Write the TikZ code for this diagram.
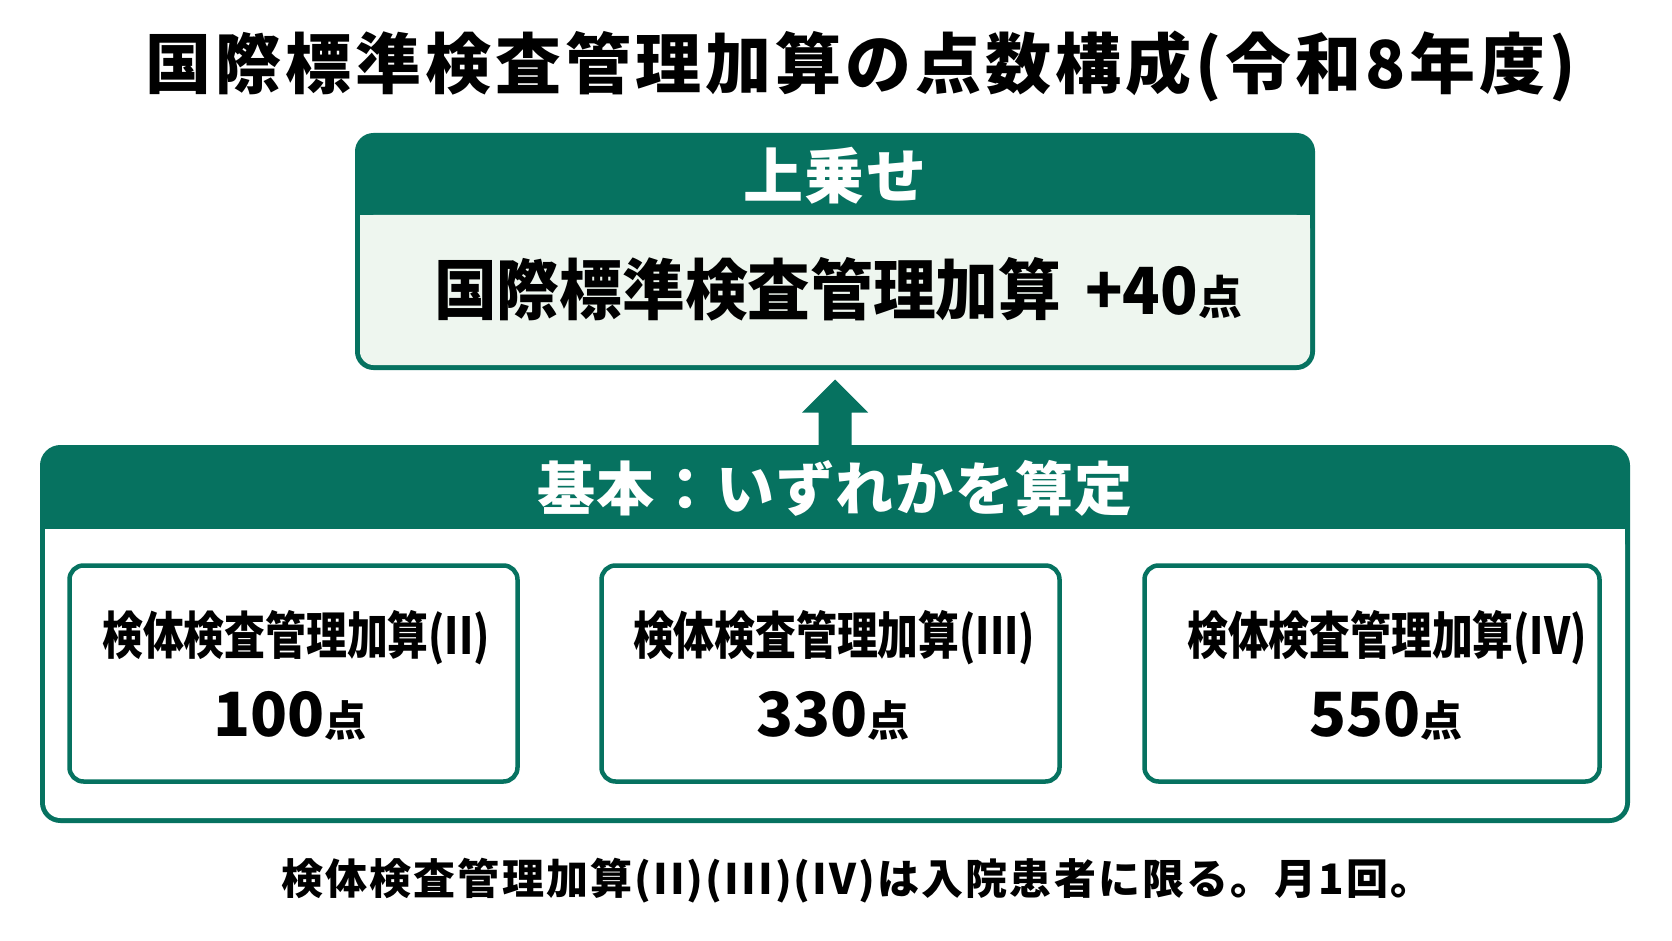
\documentclass[tikz,border=0pt]{standalone}
\usepackage{fontspec}
\setmainfont{Noto Sans CJK JP}
\newfontfamily\jpcond{Noto Sans CJK JP}[FakeStretch=0.8]
\newfontfamily\jpnarrow{Noto Sans CJK JP}[FakeStretch=0.95]
\newfontfamily\jpspaced{Noto Sans CJK JP}[LetterSpace=5]
\newfontfamily\jphead{Noto Sans CJK JP}[LetterSpace=3]
\newfontfamily\jptitle{Noto Sans CJK JP}[LetterSpace=6]
\usetikzlibrary{calc}
\definecolor{tealg}{RGB}{6,114,96}
\definecolor{lightg}{RGB}{238,246,239}
\newcommand\setfsz[1]{\fontsize{#1}{#1}\selectfont}
\begin{document}
\begin{tikzpicture}[x=1pt,y=-1pt,
  txt/.style={inner sep=0pt, outer sep=0pt, anchor=center},
  innerbox/.style={draw=tealg, line width=4.5pt, rounded corners=14pt, fill=white,
    minimum height=216pt, inner sep=0pt},
  bigbox/.style={draw=tealg, fill=tealg, line width=5pt, inner sep=0pt}
]
\useasboundingbox (0,0) rectangle (1672,941);
\fill[white] (0,0) rectangle (1672,941);

% title
\node[txt, font=\jptitle\bfseries\setfsz{66}] (title) at (861,66) {国際標準検査管理加算の点数構成(令和8年度)};

% top box
\node[bigbox, rounded corners=16pt, minimum width=955pt, minimum height=232pt] (top) at (835,251.5) {};
\fill[lightg, rounded corners=13.5pt] (360,215) rectangle (1310,365);
\fill[lightg] (360,215) rectangle (1310,240);
\node[txt, text=white, font=\jphead\bfseries\setfsz{60}] (toph) at (835,176) {上乗せ};
\node[txt, font=\jpnarrow\bfseries\setfsz{66}] (topt) at (838,289)
  {国際標準検査管理加算\hspace{24pt}{\setfsz{65}+40}{\setfsz{46}点}};

% base box
\node[bigbox, rounded corners=18pt, minimum width=1585pt, minimum height=373pt] (base) at (835,634) {};
\fill[white, rounded corners=15.5pt] (45,529) rectangle (1625,818);
\fill[white] (45,529) rectangle (1625,560);
\node[txt, text=white, font=\jphead\bfseries\setfsz{58}] (baseh) at (835,488) {基本：いずれかを算定};

% arrow from base to top
\fill[tealg] ($(base.north)+(-16.5,0)$) -- ($(top.south)+(-16.5,42.5)$) -- ($(top.south)+(-33,42.5)$)
  -- ($(top.south)+(0,9.5)$) -- ($(top.south)+(33,42.5)$) -- ($(top.south)+(16.5,42.5)$)
  -- ($(base.north)+(16.5,0)$) -- cycle;

% inner boxes
\node[innerbox, minimum width=448pt] (b1) at (293.5,673.5) {};
\node[innerbox, minimum width=458pt] (b2) at (830.5,673.5) {};
\node[innerbox, minimum width=455pt] (b3) at (1372,673.5) {};

\node[txt, font=\jpcond\bfseries\setfsz{51}] (b1a) at (296,638) {検体検査管理加算(II)};
\node[txt, font=\jpcond\bfseries\setfsz{51}] (b2a) at (834,638) {検体検査管理加算(III)};
\node[txt, font=\jpcond\bfseries\setfsz{51}] (b3a) at (1387,638) {検体検査管理加算(IV)};

\node[txt, font=\bfseries\setfsz{61}] (b1b) at (290,716) {100{\setfsz{42}点}};
\node[txt, font=\bfseries\setfsz{61}] (b2b) at (833,716) {330{\setfsz{42}点}};
\node[txt, font=\bfseries\setfsz{61}] (b3b) at (1386,716) {550{\setfsz{42}点}};

% footer
\node[txt, font=\jpspaced\bfseries\setfsz{42}] (note) at (857,881) {検体検査管理加算(II)(III)(IV)は入院患者に限る。月1回。};
\end{tikzpicture}
\end{document}
